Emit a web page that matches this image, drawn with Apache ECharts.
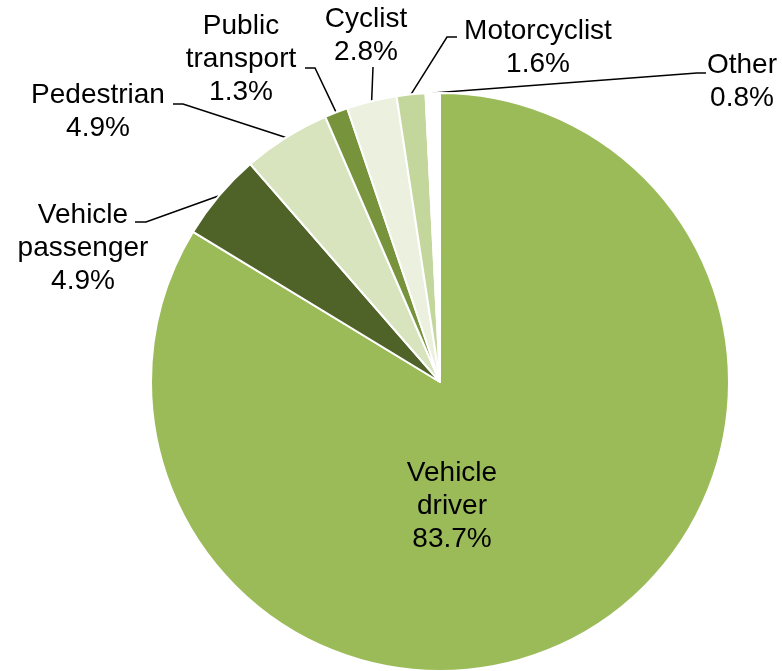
<!DOCTYPE html>
<html>
<head>
<meta charset="utf-8">
<script src="https://cdn.jsdelivr.net/npm/echarts@6/dist/echarts.min.js"></script>
<style>
  html, body { margin: 0; padding: 0; background: #fff; }
  #chart { width: 782px; height: 671px; }
</style>
</head>
<body>
<div id="chart"></div>
<script>
const categories = ["Vehicle driver", "Vehicle passenger", "Pedestrian", "Public transport", "Cyclist", "Motorcyclist", "Other"];
const shares = [83.7, 4.9, 4.9, 1.3, 2.8, 1.6, 0.8];
const colors = ["#9BBB59", "#4F6228", "#D7E4BD", "#77933C", "#EBF1DE", "#C3D69B", "#FFFFFF"];

// where each label sits, and where its leader line bends
const labelSpots = [
    { x: 452, y: 506 },
    { x: 83, y: 248, bend: [146, 222], end: [135, 222] },
    { x: 98, y: 112, bend: [183, 104], end: [173, 104] },
    { x: 241, y: 59, bend: [315, 68], end: [305, 68] },
    { x: 366, y: 36, bend: [373, 67] },
    { x: 538, y: 48, bend: [447, 37], end: [457, 37] },
    { x: 742, y: 82, bend: [697, 73], end: [706, 73] },
];

function drawChart() {
    let myChart = echarts.init(document.querySelector("#chart"));
    const data = categories.map(function (name, i) {
        return {
            name: name,
            value: shares[i],
            itemStyle: { color: colors[i] },
            labelLine: { show: i !== 0 },
        };
    });
    const option = {
        animation: false,
        series: [
            {
                type: "pie",
                center: [440, 382],
                radius: 289,
                startAngle: 90,
                clockwise: true,
                avoidLabelOverlap: false,
                itemStyle: { borderColor: "#fff", borderWidth: 2 },
                label: {
                    show: true,
                    color: "#000",
                    fontFamily: "Liberation Sans, Arial, sans-serif",
                    fontSize: 28,
                    lineHeight: 33,
                    align: "center",
                    formatter: function (p) {
                        const name = p.name.indexOf("Motor") === 0 ? p.name : p.name.replace(" ", "\n");
                        return name + "\n" + p.value.toFixed(1) + "%";
                    },
                },
                labelLine: {
                    show: true,
                    lineStyle: { color: "#000", width: 1.5 },
                },
                labelLayout: function (params) {
                    const s = labelSpots[params.dataIndex];
                    const out = { x: s.x, y: s.y, align: "center", verticalAlign: "middle" };
                    if (s.bend && params.labelLinePoints) {
                        const start = params.labelLinePoints[0];
                        out.labelLinePoints = [start, s.bend, s.end || s.bend];
                    }
                    return out;
                },
                data: data,
            },
        ],
    };
    myChart.setOption(option);
}

drawChart();
</script>
</body>
</html>
